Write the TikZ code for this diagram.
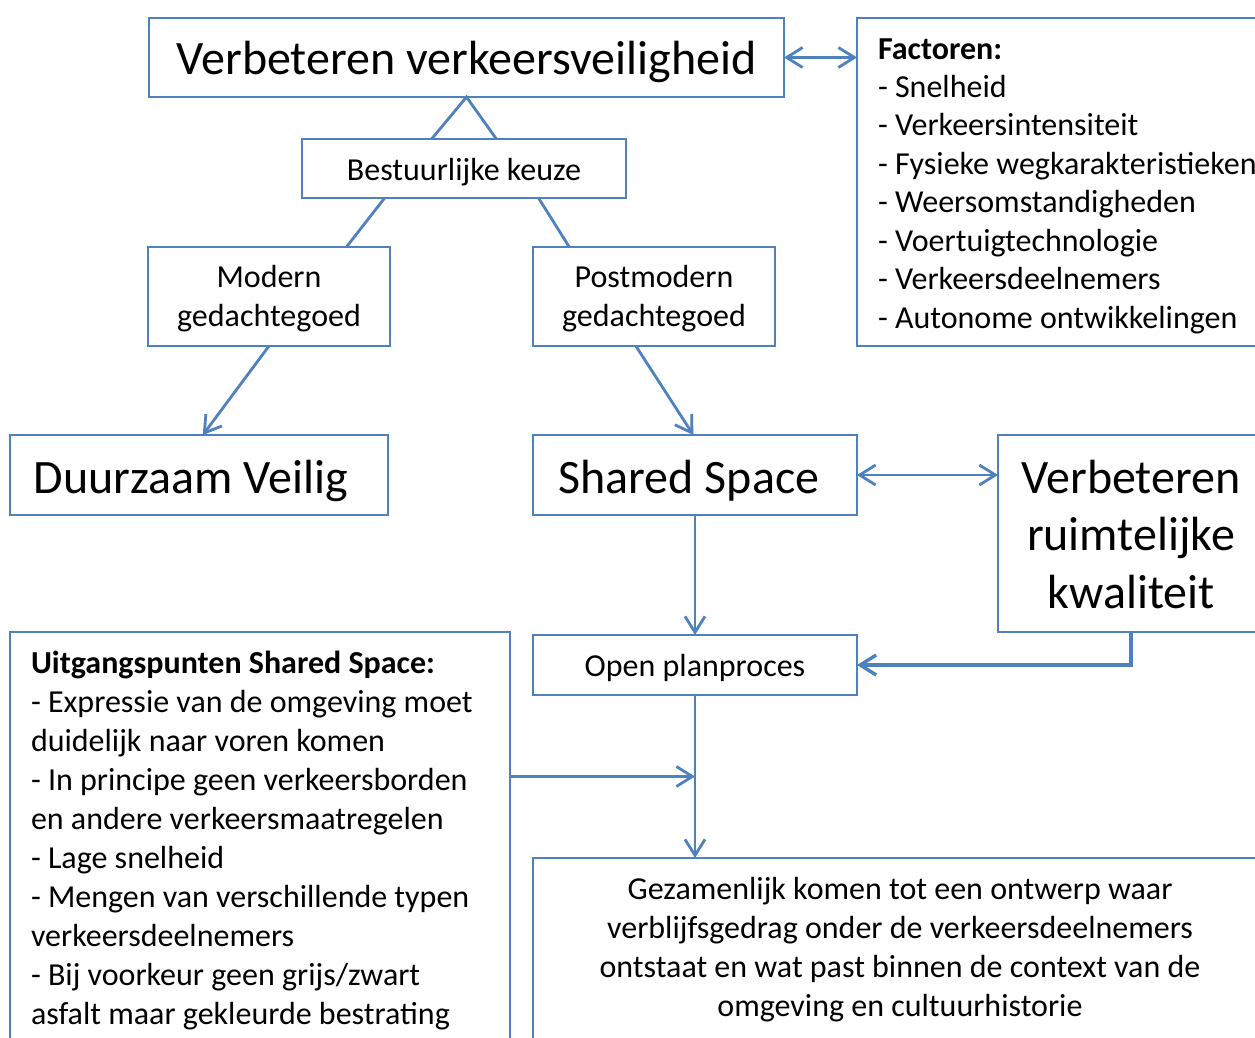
\documentclass[tikz,border=0pt]{standalone}
\usepackage{fontspec}
\setmainfont{Carlito}
\usetikzlibrary{arrows.meta,calc}
\definecolor{lineblue}{HTML}{4F81BD}
\newcommand\fbig{\fontsize{48}{57.5}\selectfont}
\newcommand\fmid{\fontsize{32}{38.45}\selectfont}
\newcommand\fmidb{\fontsize{32}{39}\selectfont}
\begin{document}
\begin{tikzpicture}[x=1pt,y=-1pt,
  box/.style={draw=lineblue, line width=1.8pt, anchor=north west, inner sep=0pt, outer sep=0pt},
  txt/.style={inner sep=0pt, outer sep=0pt, text=black},
  conn/.style={draw=lineblue, line width=2.8pt},
  arr/.style={conn, -{Straight Barb[length=16pt,width=20pt]}},
  darr/.style={conn, {Straight Barb[length=16pt,width=20pt]}-{Straight Barb[length=16pt,width=20pt]}}
]
\useasboundingbox (0,0) rectangle (1255,1037);
\clip (0,0) rectangle (1255,1037);

% boxes
\node[box, minimum width=635pt, minimum height=79pt] (vv) at (149,18) {};
\node[box, minimum width=420pt, minimum height=328pt] (fac) at (857,18) {};
\node[box, minimum width=324pt, minimum height=59pt] (bk) at (302,139) {};
\node[box, minimum width=242pt, minimum height=99pt] (mod) at (148,247) {};
\node[box, minimum width=242pt, minimum height=99pt] (pm) at (533,247) {};
\node[box, minimum width=378pt, minimum height=80pt] (dv) at (10,435) {};
\node[box, minimum width=324pt, minimum height=80pt] (ss) at (533,435) {};
\node[box, minimum width=266pt, minimum height=197pt] (vrk) at (998,435) {};
\node[box, minimum width=324pt, minimum height=60pt] (op) at (533,635) {};
\node[box, minimum width=500pt, minimum height=420pt] (up) at (10,632) {};
\node[box, minimum width=740pt, minimum height=200pt] (gez) at (533,858) {};

% texts (multi-line nodes: base anchor = baseline of last line)
\node[txt, anchor=base, font=\fbig] (vvt) at (466.5,74) {Verbeteren verkeersveiligheid};
\node[txt, anchor=base west, align=left, font=\fmid] (fact) at (878,328.2)
  {\textbf{Factoren:}\\- Snelheid\\- Verkeersintensiteit\\- Fysieke wegkarakteristieken\\- Weersomstandigheden\\- Voertuigtechnologie\\- Verkeersdeelnemers\\- Autonome ontwikkelingen};
\node[txt, anchor=base, font=\fmid] (bkt) at (464,180) {Bestuurlijke keuze};
\node[txt, anchor=base, align=center, font=\fmidb] (modt) at (269,326) {Modern\\gedachtegoed};
\node[txt, anchor=base, align=center, font=\fmidb] (pmt) at (654,326) {Postmodern\\gedachtegoed};
\node[txt, anchor=base, font=\fbig] (dvt) at (191,493) {Duurzaam Veilig};
\node[txt, anchor=base, font=\fbig] (sst) at (689,493) {Shared Space};
\node[txt, anchor=base, align=center, font=\fbig] (vrkt) at (1131,608) {Verbeteren\\ruimtelijke\\kwaliteit};
\node[txt, anchor=base, font=\fmid] (opt) at (695,676) {Open planproces};
\node[txt, anchor=base west, align=left, font=\fmidb] (upt) at (31,1024)
  {\textbf{Uitgangspunten Shared Space:}\\- Expressie van de omgeving moet\\duidelijk naar voren komen\\- In principe geen verkeersborden\\en andere verkeersmaatregelen\\- Lage snelheid\\- Mengen van verschillende typen\\verkeersdeelnemers\\- Bij voorkeur geen grijs/zwart\\asfalt maar gekleurde bestrating};
\node[txt, anchor=base, align=center, font=\fmidb] (gezt) at (900,1016)
  {Gezamenlijk komen tot een ontwerp waar\\verblijfsgedrag onder de verkeersdeelnemers\\ontstaat en wat past binnen de context van de\\omgeving en cultuurhistorie};

% connectors
\draw[darr] (vv.east) -- (vv.east -| fac.west);
\draw[conn] ($(bk.north west)!0.4!(bk.north east)$) -- (vv.south) -- ($(bk.north west)!0.6!(bk.north east)$);
\draw[conn] ($(bk.south west)!0.255!(bk.south east)$) -- ($(mod.north west)!0.82!(mod.north east)$);
\draw[conn] ($(bk.south west)!0.73!(bk.south east)$) -- ($(pm.north west)!0.15!(pm.north east)$);
\draw[arr] (mod.south) -- ($(dv.north west)!0.51!(dv.north east)$);
\draw[arr] ($(pm.south west)!0.425!(pm.south east)$) -- ($(ss.north west)!0.495!(ss.north east)$);
\draw[darr] (ss.east) -- (ss.east -| vrk.west);
\draw[arr] (ss.south) -- (op.north);
\draw[arr, line width=3.4pt] (vrk.south) |- (op.east);
\draw[arr] (op.south) -- (op.south |- gez.north);
\coordinate (mid) at ($(op.south)!0.5!(op.south |- gez.north)$);
\draw[arr] (mid -| up.east) -- (mid);
\end{tikzpicture}
\end{document}
